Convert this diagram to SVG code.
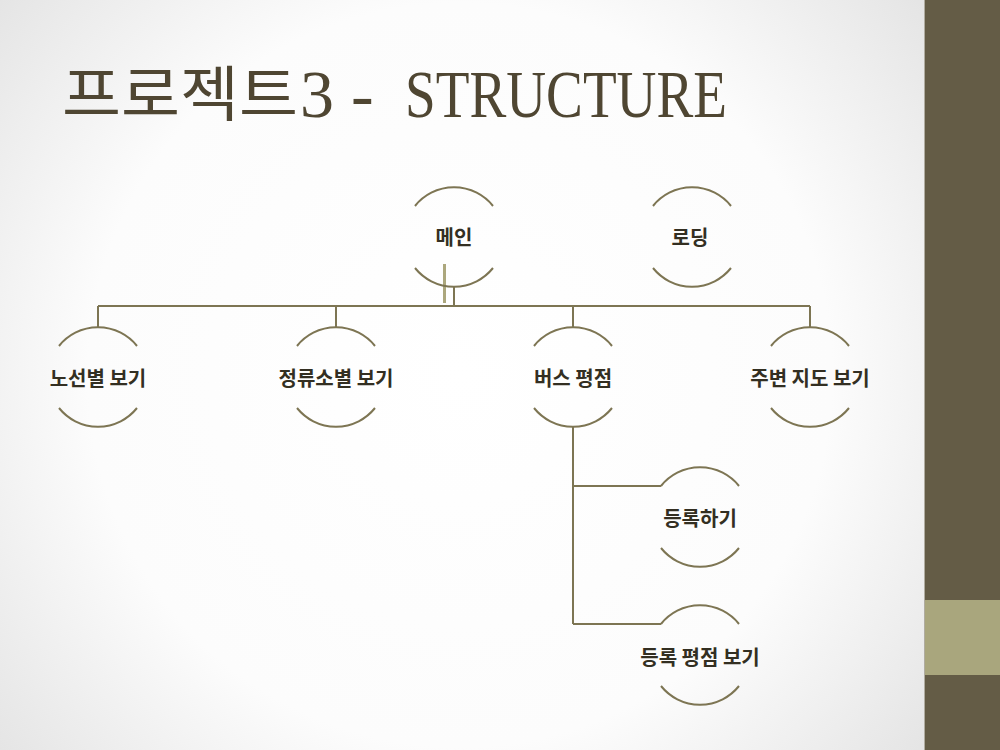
<svg xmlns="http://www.w3.org/2000/svg" width="1000" height="750" viewBox="0 0 1000 750">
  <defs>
    <radialGradient id="bg" cx="460" cy="375" r="620" gradientUnits="userSpaceOnUse">
      <stop offset="0" stop-color="#ffffff"/>
      <stop offset="0.6" stop-color="#fcfcfc"/>
      <stop offset="1" stop-color="#e2e2e2"/>
    </radialGradient>
    <style>
      .arc { fill: none; stroke: #7d7553; stroke-width: 2; }
      .conn { fill: none; stroke: #7d7553; stroke-width: 2; }
      .lbl { font-family: "Noto Sans CJK KR", "Noto Sans", sans-serif; font-weight: 700; font-size: 20px; fill: #332f22; text-anchor: middle; dominant-baseline: central; }
      .title-ko { font-family: "Noto Sans CJK KR", sans-serif; font-weight: 400; font-size: 60px; fill: #4f4632; }
      .title-en { font-family: "Liberation Serif", serif; font-size: 68px; fill: #4f4632; }
    </style>
  </defs>

  <rect x="0" y="0" width="1000" height="750" fill="url(#bg)"/>
  <g id="sidebar">
    <rect x="924" y="0" width="1" height="750" fill="#b0aca0"/>
    <rect x="925" y="0" width="75" height="750" fill="#645c46"/>
    <rect x="925" y="600" width="75" height="75" fill="#a9a67d"/>
  </g>

  <g id="title">
    <text class="title-ko" x="62" y="116" textLength="236" lengthAdjust="spacingAndGlyphs">프로젝트</text>
    <text class="title-en" x="300" y="117">3 -</text>
    <text class="title-en" x="405" y="117" textLength="322" lengthAdjust="spacingAndGlyphs">STRUCTURE</text>
  </g>

  <g id="connectors">
    <path class="conn" d="M454 287 V306"/>
    <path class="conn" d="M98 306 H810"/>
    <path class="conn" d="M98 306 V327 M336 306 V327 M573 306 V327 M810 306 V327"/>
    <path class="conn" d="M573 427 V624 M573 486 H661 M573 624 H661"/>
    <path d="M444.5 264 V303" stroke="#aca77d" stroke-width="3" fill="none"/>
  </g>

  <g id="node-main">
    <path class="arc" d="M415 206 A50 50 0 0 1 493 206 M415 268 A50 50 0 0 0 493 268"/>
    <text class="lbl" x="454" y="236">메인</text>
  </g>
  <g id="node-loading">
    <path class="arc" d="M653 206 A50 50 0 0 1 731 206 M653 268 A50 50 0 0 0 731 268"/>
    <text class="lbl" x="690" y="236">로딩</text>
  </g>
  <g id="node-route">
    <path class="arc" d="M59 346 A50 50 0 0 1 137 346 M59 408 A50 50 0 0 0 137 408"/>
    <text class="lbl" x="98" y="377">노선별 보기</text>
  </g>
  <g id="node-stop">
    <path class="arc" d="M297 346 A50 50 0 0 1 375 346 M297 408 A50 50 0 0 0 375 408"/>
    <text class="lbl" x="336" y="377">정류소별 보기</text>
  </g>
  <g id="node-rating">
    <path class="arc" d="M534 346 A50 50 0 0 1 612 346 M534 408 A50 50 0 0 0 612 408"/>
    <text class="lbl" x="573" y="377">버스 평점</text>
  </g>
  <g id="node-map">
    <path class="arc" d="M771 346 A50 50 0 0 1 849 346 M771 408 A50 50 0 0 0 849 408"/>
    <text class="lbl" x="810" y="377">주변 지도 보기</text>
  </g>
  <g id="node-register">
    <path class="arc" d="M661 486 A50 50 0 0 1 739 486 M661 548 A50 50 0 0 0 739 548"/>
    <text class="lbl" x="700" y="517">등록하기</text>
  </g>
  <g id="node-view-rating">
    <path class="arc" d="M661 624 A50 50 0 0 1 739 624 M661 686 A50 50 0 0 0 739 686"/>
    <text class="lbl" x="700" y="656">등록 평점 보기</text>
  </g>
</svg>
